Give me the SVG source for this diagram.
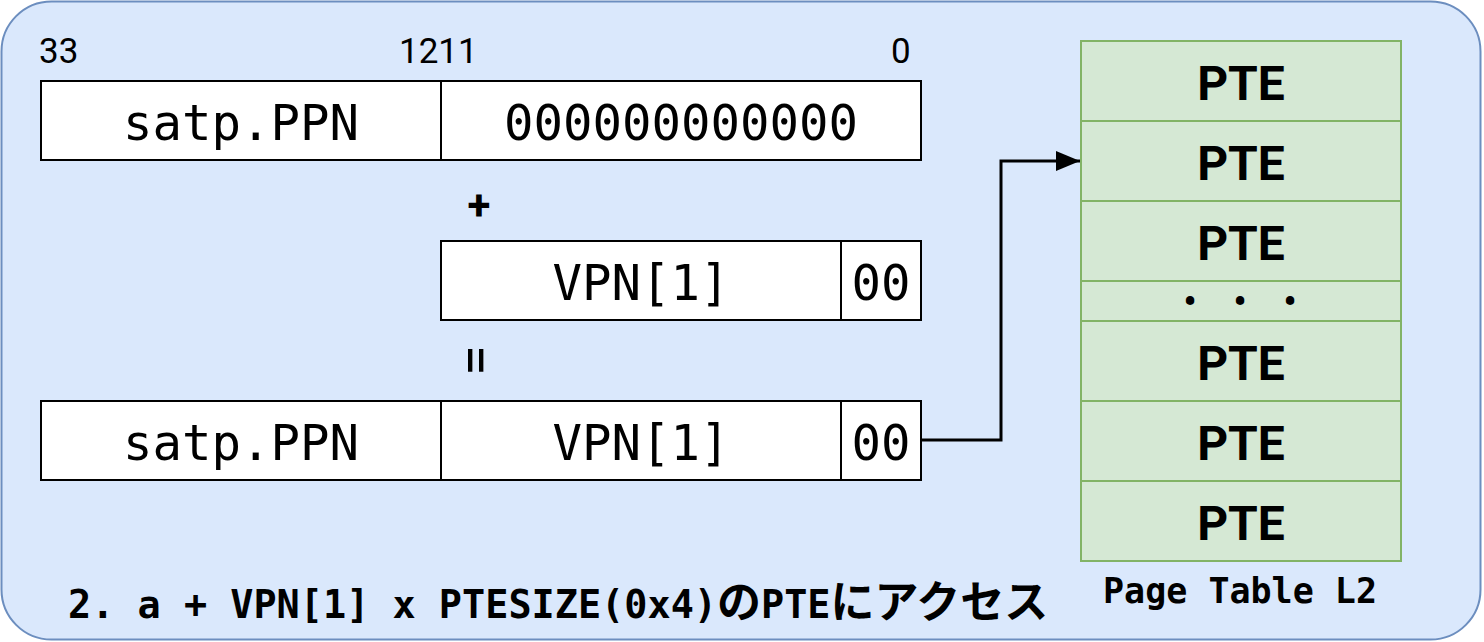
<svg xmlns="http://www.w3.org/2000/svg" width="1484" height="642" viewBox="0 0 1484 642">
<style>
.box{fill:#ffffff;stroke:#000000;stroke-width:2}
.pte{fill:#d5e8d4;stroke:#82b366;stroke-width:2}
.mono{font-family:"DejaVu Sans Mono","Liberation Mono",monospace;font-size:49px;fill:#000;text-anchor:middle}
.bit{font-family:Roboto,"Liberation Sans",sans-serif;font-size:35px;fill:#000}
.op{font-family:Roboto,"Liberation Sans",sans-serif;font-weight:bold;font-size:42px;fill:#000;text-anchor:middle}
.ptet{font-family:Roboto,"Liberation Sans",sans-serif;font-weight:bold;font-size:48px;fill:#000;text-anchor:middle}
.lbl{font-family:"DejaVu Sans Mono","Liberation Mono","Noto Sans CJK JP",monospace;font-weight:bold;fill:#000}
.jp{font-size:44px}
.conn{fill:none;stroke:#000;stroke-width:3}
</style>
<defs>
<marker id="ah" viewBox="0 0 24 20" refX="24" refY="10" markerWidth="24" markerHeight="20" markerUnits="userSpaceOnUse" orient="auto">
<path d="M0,0 L24,10 L0,20 Z" fill="#000"/>
</marker>
</defs>
<g id="container">
<rect x="1.5" y="1.5" width="1479" height="638" rx="50" ry="50" fill="#dae8fc" stroke="#6c8ebf" stroke-width="2"/>
</g>
<g id="bits">
<text class="bit" x="39" y="63">33</text>
<text class="bit" x="399" y="63">1211</text>
<text class="bit" x="891" y="63">0</text>
</g>
<g id="row1">
<rect class="box" x="41" y="81" width="400" height="79"/>
<rect class="box" x="441" y="81" width="480" height="79"/>
<text class="mono" x="241" y="140">satp.PPN</text>
<text class="mono" x="681" y="140">000000000000</text>
</g>
<g id="plus"><text class="op" x="479" y="220">+</text></g>
<g id="row2">
<rect class="box" x="441" y="241" width="400" height="79"/>
<rect class="box" x="841" y="241" width="80" height="79"/>
<text class="mono" x="641" y="300">VPN[1]</text>
<text class="mono" x="881" y="300">00</text>
</g>
<g id="equals"><text class="op" x="0" y="0" style="font-weight:normal;font-size:56px" transform="translate(474,360) rotate(90) translate(0,17)">=</text></g>
<g id="row3">
<rect class="box" x="41" y="401" width="400" height="79"/>
<rect class="box" x="441" y="401" width="400" height="79"/>
<rect class="box" x="841" y="401" width="80" height="79"/>
<text class="mono" x="241" y="460">satp.PPN</text>
<text class="mono" x="641" y="460">VPN[1]</text>
<text class="mono" x="881" y="460">00</text>
</g>
<g id="pagetable">
<rect class="pte" x="1081" y="41" width="320" height="80"/>
<rect class="pte" x="1081" y="121" width="320" height="80"/>
<rect class="pte" x="1081" y="201" width="320" height="80"/>
<rect class="pte" x="1081" y="281" width="320" height="40"/>
<rect class="pte" x="1081" y="321" width="320" height="80"/>
<rect class="pte" x="1081" y="401" width="320" height="80"/>
<rect class="pte" x="1081" y="481" width="320" height="80"/>
<text class="ptet" x="1241" y="100">PTE</text>
<text class="ptet" x="1241" y="180">PTE</text>
<text class="ptet" x="1241" y="260">PTE</text>
<text class="ptet" x="1190 1240 1290" y="314" style="font-size:36px">•••</text>
<text class="ptet" x="1241" y="380">PTE</text>
<text class="ptet" x="1241" y="460">PTE</text>
<text class="ptet" x="1241" y="540">PTE</text>
<text class="lbl" x="1240" y="603" style="font-size:35px;text-anchor:middle">Page Table L2</text>
</g>
<g id="connectors">
<path class="conn" d="M921,440 L1001,440 L1001,161 L1080,161" marker-end="url(#ah)"/>
</g>
<g id="caption">
<text class="lbl" x="68" y="618" style="font-size:38.5px">2. a + VPN[1] x PTESIZE(0x4)<tspan class="jp">の</tspan>PTE<tspan class="jp">にアクセス</tspan></text>
</g>
</svg>
